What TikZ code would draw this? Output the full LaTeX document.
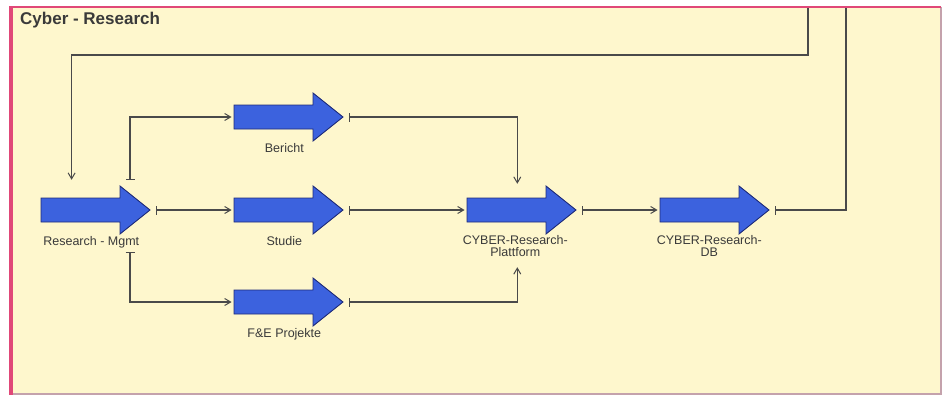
\documentclass[tikz,border=0pt]{standalone}
\usepackage{fontspec}
\setmainfont{Liberation Sans}
\usetikzlibrary{arrows.meta,calc}

\definecolor{panelfill}{HTML}{FEF7CD}
\definecolor{panelpink}{HTML}{E04878}
\definecolor{panelgrey}{HTML}{C4A2AC}
\definecolor{procblue}{HTML}{3C62DE}
\definecolor{procedge}{HTML}{1F2C7A}
\definecolor{linkgrey}{HTML}{4A4A4A}
\definecolor{labelgrey}{HTML}{3A3A3A}

\tikzset{
  procframe/.style={minimum width=109pt, minimum height=48pt, inner sep=0pt, anchor=east},
  procshape/.style={fill=procblue, draw=procedge, line width=0.9pt, line join=miter},
  proclabel/.style={anchor=north, align=center, text=labelgrey, font=\fontsize{12.5}{12.5}\selectfont, inner sep=0pt},
  link/.style={draw=linkgrey, line width=1.2pt,
    -{Straight Barb[length=6pt,width=7pt,line width=1pt]}},
  barlink/.style={link, {Bar[width=9pt,line width=1.2pt]}-{Straight Barb[length=6pt,width=7pt,line width=1pt]}},
}

% block arrow: name, tip x, tip y
\newcommand\procarrow[3]{%
  \node[procframe] (#1) at (#2,#3) {};
  \path[procshape] (#1.east) -- ++(-30,-24) -- ++(0,12) -- ++(-79,0)
    -- ++(0,24) -- ++(79,0) -- ++(0,12) -- cycle;
}

\begin{document}
\begin{tikzpicture}[x=1pt,y=-1pt]
  \useasboundingbox (0,0) rectangle (944,396);
  \fill[white] (0,0) rectangle (944,396);

  % panel
  \fill[panelfill] (11,7) rectangle (941,394);
  \draw[panelgrey, line width=2pt] (941,7) -- (941,394);
  \draw[panelgrey, line width=2pt] (11,393.5) -- (942,393.5);
  \draw[panelpink, line width=2pt] (10,7.5) -- (941,7.5);
  \draw[panelpink, line width=4pt] (11,6.5) -- (11,395);
  \node[anchor=north west, inner sep=0pt, text=labelgrey,
        font=\fontsize{17}{19}\selectfont\bfseries] (title) at (20,12) {Cyber - Research};

  % process arrows
  \procarrow{rm}{150}{210}
  \procarrow{bericht}{343}{117}
  \procarrow{studie}{343}{210}
  \procarrow{fe}{343}{302}
  \procarrow{platt}{576}{210}
  \procarrow{db}{769}{210}

  \node[proclabel] (lrm) at ([xshift=-4pt,yshift=-2pt]rm.south) {Research - Mgmt};
  \node[proclabel] (lbericht) at ([xshift=-4pt,yshift=-2pt]bericht.south) {Bericht};
  \node[proclabel] (lstudie) at ([xshift=-4pt,yshift=-2pt]studie.south) {Studie};
  \node[proclabel] (lfe) at ([xshift=-4pt,yshift=-2pt]fe.south) {F\&E Projekte};
  \node[proclabel] (lplatt) at ([xshift=-6pt,yshift=-1pt]platt.south) {CYBER-Research-\\Plattform};
  \node[proclabel] (ldb) at ([xshift=-5pt,yshift=-1pt]db.south) {CYBER-Research-\\DB};

  % free ends at the upper edge
  \coordinate (topL) at (808,8);
  \coordinate (topR) at (846,8);

  % connectors
  \draw[barlink, shorten <=6pt, shorten >=2pt] (rm.east) -- (studie.west);
  \draw[barlink, shorten >=2pt] ([xshift=-20pt,yshift=6pt]rm.north east) |- (bericht.west);
  \draw[barlink, shorten >=2pt] ([xshift=-20pt,yshift=-18pt]rm.south east) |- (fe.west);
  \draw[barlink, shorten <=6pt, shorten >=2pt] (bericht.east) -| ([xshift=-4pt]platt.north);
  \draw[barlink, shorten <=6pt, shorten >=2pt] (studie.east) -- (platt.west);
  \draw[barlink, shorten <=6pt] (fe.east) -| ([xshift=-4pt,yshift=-33pt]platt.south);
  \draw[barlink, shorten <=6pt, shorten >=2pt] (platt.east) -- (db.west);
  \draw[draw=linkgrey, line width=1.2pt, {Bar[width=9pt,line width=1.2pt]}-, shorten <=6pt] (db.east) -| (topR);
  \draw[link, shorten >=6pt] (topL) -- ++(0,47) -| ([xshift=31pt]rm.north west);
\end{tikzpicture}
\end{document}
